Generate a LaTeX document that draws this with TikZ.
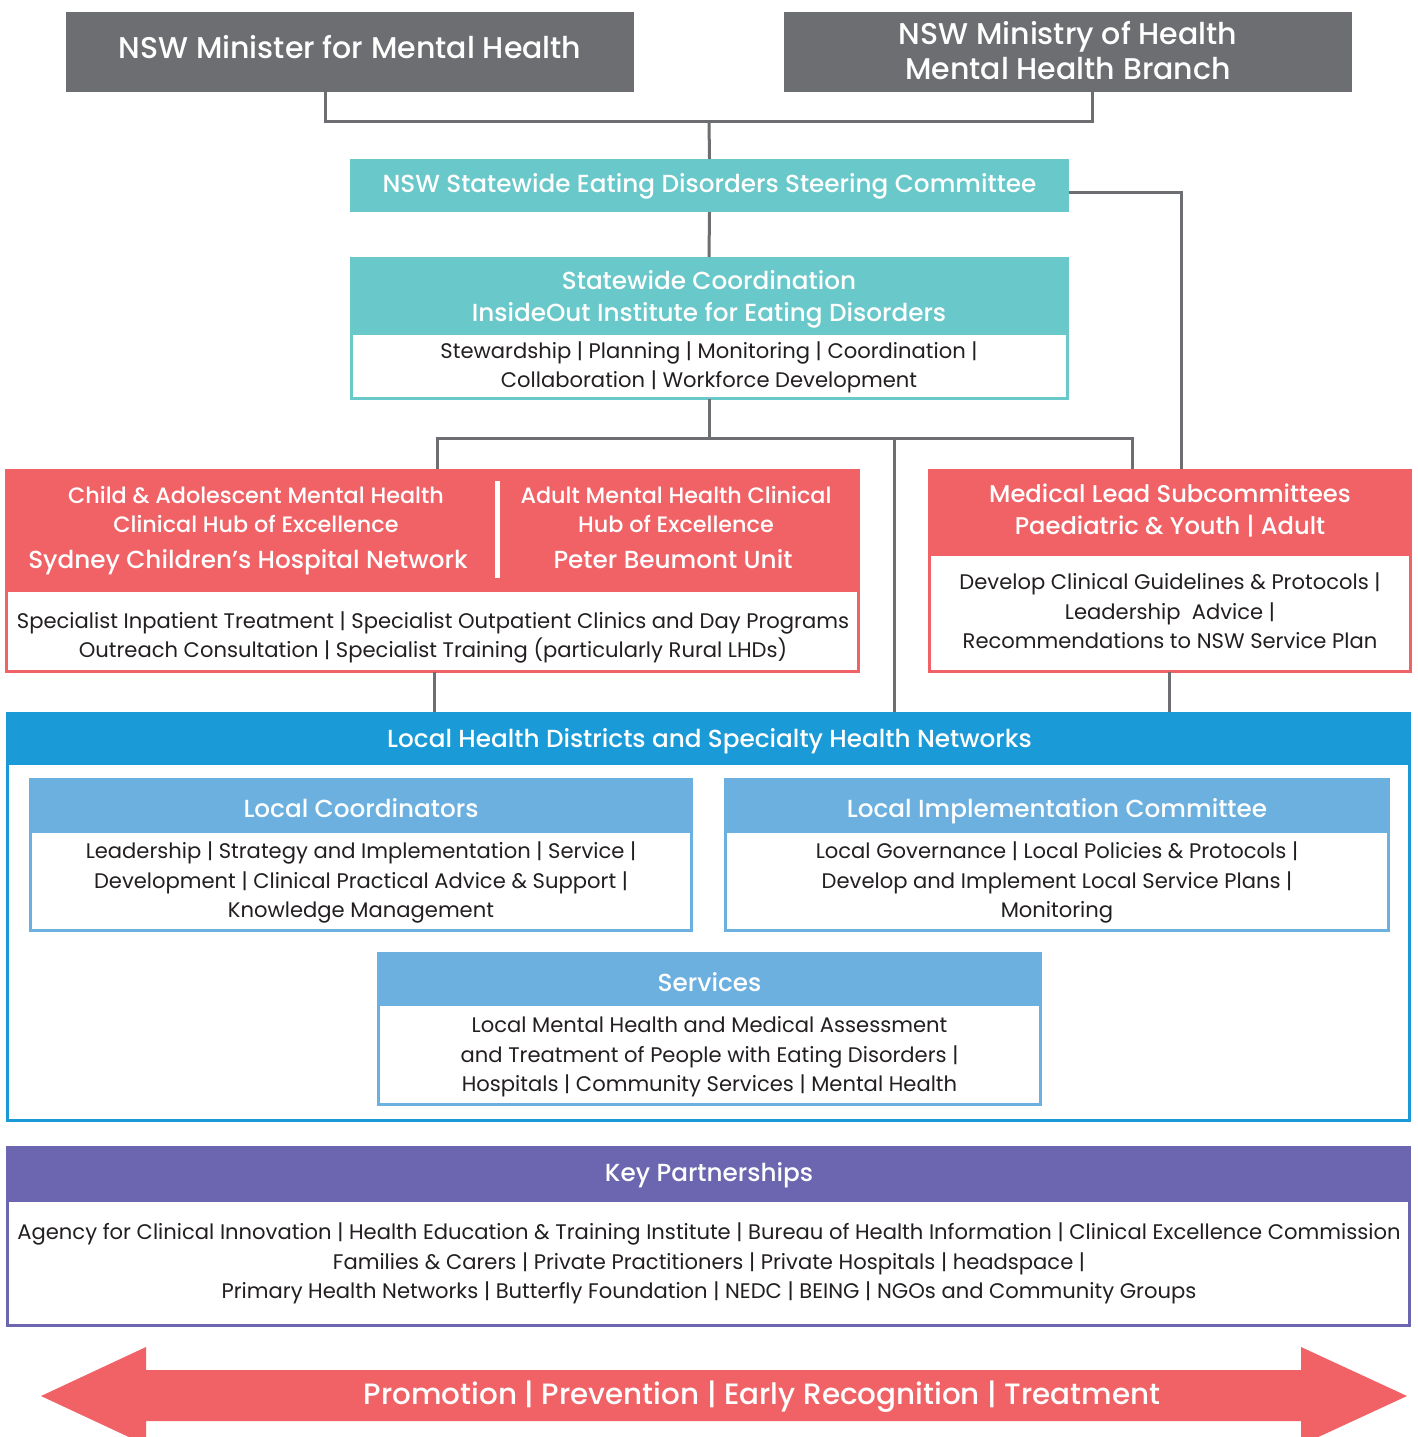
\documentclass[tikz,border=0pt]{standalone}
\usepackage{fontspec}
\setmainfont{Poppins}
\newfontfamily\hdfont{Poppins Medium}
\usetikzlibrary{calc}
\definecolor{cgray}{HTML}{6D6E71}
\definecolor{cteal}{HTML}{69C8C9}
\definecolor{cred}{HTML}{F06266}
\definecolor{cblue}{HTML}{1A9AD7}
\definecolor{clblue}{HTML}{6CB0DF}
\definecolor{cpurple}{HTML}{6B66AF}
\definecolor{ctext}{HTML}{231F20}
\begin{document}
\begin{tikzpicture}[x=1pt,y=-1pt,
  conn/.style={draw=cgray, line width=3pt},
  hdr/.style={fill=#1, draw=none, inner sep=0pt, outer sep=0pt, anchor=north west},
  bdy/.style={draw=#1, line width=3pt, fill=white, inner sep=0pt, outer sep=0pt, anchor=north west},
  ttl/.style={text=white, inner sep=0pt, align=center, font=\hdfont\fontsize{30}{35}\selectfont},
  htx/.style={text=white, inner sep=0pt, align=center, font=\hdfont\fontsize{24.7}{32}\selectfont},
  btx/.style={text=ctext, inner sep=0pt, align=center, font=\fontsize{21.1}{29.5}\selectfont},
]
\useasboundingbox (0,0) rectangle (1417,1437);
\fill[white] (0,0) rectangle (1417,1437);

% top boxes
\node[hdr=cgray, minimum width=568pt, minimum height=80pt] (minister) at (66,12) {};
\node[ttl] (ministert) at (350,51.2) {\strut NSW Minister for Mental Health};
\node[hdr=cgray, minimum width=568pt, minimum height=80pt] (ministry) at (784,12) {};
\node[ttl] (ministryt) at (1068,55) {\strut NSW Ministry of Health\\\strut Mental Health Branch};

\node[hdr=cteal, minimum width=719pt, minimum height=53pt] (steer) at (350,159) {};
\node[htx] (steert) at (709.5,186.3) {\strut NSW Statewide Eating Disorders Steering Committee};

\node[hdr=cteal, minimum width=719pt, minimum height=76pt] (coord) at (349.5,257) {};
\node[htx] (coordt) at (709,299.3) {\strut Statewide Coordination\\\strut InsideOut Institute for Eating Disorders};
\node[bdy=cteal, minimum width=716pt, minimum height=65.5pt] (coordb) at (351,333) {};
\node[btx, font=\fontsize{21.1}{29}\selectfont] (coordbt) at (709,367.2) {\strut Stewardship | Planning | Monitoring | Coordination |\\\strut Collaboration | Workforce Development};

% hubs
\node[hdr=cred, minimum width=855.5pt, minimum height=121pt] (hub) at (4.5,469) {};
\node[bdy=cred, minimum width=852.5pt, minimum height=81.5pt] (hubb) at (6,590) {};
\node[btx] (hubbt) at (433,637) {\strut Specialist Inpatient Treatment | Specialist Outpatient Clinics and Day Programs\\\strut Outreach Consultation | Specialist Training (particularly Rural LHDs)};
\draw[white, line width=5pt] (497,481) -- (497,578);
\node[htx, font=\hdfont\fontsize{22.3}{29.4}\selectfont] (hubl) at (256,511.9) {\strut Child \& Adolescent Mental Health\\\strut Clinical Hub of Excellence};
\node[htx, font=\hdfont\fontsize{24.7}{30}\selectfont] (hubln) at (248,562.6) {\strut Sydney Children’s Hospital Network};
\node[htx, font=\hdfont\fontsize{22.3}{29.4}\selectfont] (hubr) at (676,511.9) {\strut Adult Mental Health Clinical\\\strut Hub of Excellence};
\node[htx, font=\hdfont\fontsize{24.7}{30}\selectfont] (hubrn) at (673,562.6) {\strut Peter Beumont Unit};

% medical lead
\node[hdr=cred, minimum width=483.5pt, minimum height=85pt] (med) at (928,469) {};
\node[htx, font=\hdfont\fontsize{24.2}{32}\selectfont] (medt) at (1170,512.5) {\strut Medical Lead Subcommittees\\\strut Paediatric \& Youth | Adult};
\node[bdy=cred, minimum width=480.5pt, minimum height=117.5pt] (medb) at (929.5,554) {};
\node[btx] (medbt) at (1170,613.5) {\strut Develop Clinical Guidelines \& Protocols |\\\strut Leadership~~Advice |\\\strut Recommendations to NSW Service Plan};

% LHD
\node[hdr=cblue, minimum width=1405pt, minimum height=51pt] (lhd) at (6,712) {};
\node[htx] (lhdt) at (709.5,741) {\strut Local Health Districts and Specialty Health Networks};
\node[bdy=cblue, minimum width=1402pt, minimum height=357.5pt] (lhdb) at (7.5,763) {};

\node[hdr=clblue, minimum width=664.5pt, minimum height=53pt] (lc) at (28.5,778) {};
\node[htx] (lct) at (361,811.5) {\strut Local Coordinators};
\node[bdy=clblue, minimum width=661.5pt, minimum height=99.5pt] (lcb) at (30,831) {};
\node[btx] (lcbt) at (361,882.5) {\strut Leadership | Strategy and Implementation | Service |\\\strut Development | Clinical Practical Advice \& Support |\\\strut Knowledge Management};

\node[hdr=clblue, minimum width=665.5pt, minimum height=53pt] (li) at (724,778) {};
\node[htx] (lit) at (1057,811.5) {\strut Local Implementation Committee};
\node[bdy=clblue, minimum width=662.5pt, minimum height=99.5pt] (lib) at (725.5,831) {};
\node[btx] (libt) at (1057,882.5) {\strut Local Governance | Local Policies \& Protocols |\\\strut Develop and Implement Local Service Plans |\\\strut Monitoring};

\node[hdr=clblue, minimum width=665pt, minimum height=52pt] (sv) at (377,952) {};
\node[htx] (svt) at (709.5,985.5) {\strut Services};
\node[bdy=clblue, minimum width=662pt, minimum height=100.5pt] (svb) at (378.5,1004) {};
\node[btx] (svbt) at (709.5,1056.5) {\strut Local Mental Health and Medical Assessment\\\strut and Treatment of People with Eating Disorders |\\\strut Hospitals | Community Services | Mental Health};

% key partnerships
\node[hdr=cpurple, minimum width=1405pt, minimum height=54pt] (kp) at (6,1146) {};
\node[htx] (kpt) at (709,1175.5) {\strut Key Partnerships};
\node[bdy=cpurple, minimum width=1402pt, minimum height=125.5pt] (kpb) at (7.5,1200) {};
\node[btx] (kpbt) at (709,1263.5) {\strut Agency for Clinical Innovation | Health Education \& Training Institute | Bureau of Health Information | Clinical Excellence Commission\\\strut Families \& Carers | Private Practitioners | Private Hospitals | headspace |\\\strut Primary Health Networks | Butterfly Foundation | NEDC | BEING | NGOs and Community Groups};

% arrow
\fill[cred] (41,1396) -- (146,1347) -- (146,1370) -- (1301,1370) -- (1301,1347) -- (1407,1396) -- (1301,1445) -- (1301,1421) -- (146,1421) -- (146,1445) -- cycle;
\node[htx, font=\hdfont\fontsize{29.4}{35}\selectfont] (arr) at (762,1397.3) {\strut Promotion | Prevention | Early Recognition | Treatment};

% connectors
\coordinate (jt) at (709,121);
\coordinate (jm) at (709,438);
\coordinate (jr) at (894,438);
\draw[conn] ([xshift=-25pt]minister.south) |- (jt) -| ([xshift=24pt]ministry.south);
\draw[conn] (jt) -- (steer.north);
\draw[conn] ([yshift=-6.5pt]steer.east) -| ([xshift=12pt]med.north);
\draw[conn] (steer.south) -- (coord.north);
\draw[conn] (coordb.south) -- (jm);
\draw[conn] ([xshift=5pt]hub.north) |- (jm) -| ([xshift=-37.75pt]med.north);
\draw[conn] (jr) -- (jr |- lhd.north);
\draw[conn] ([xshift=2.5pt]hubb.south) -- ([xshift=2.5pt]hubb.south |- lhd.north);
\draw[conn] (medb.south) -- (medb.south |- lhd.north);
\end{tikzpicture}
\end{document}
